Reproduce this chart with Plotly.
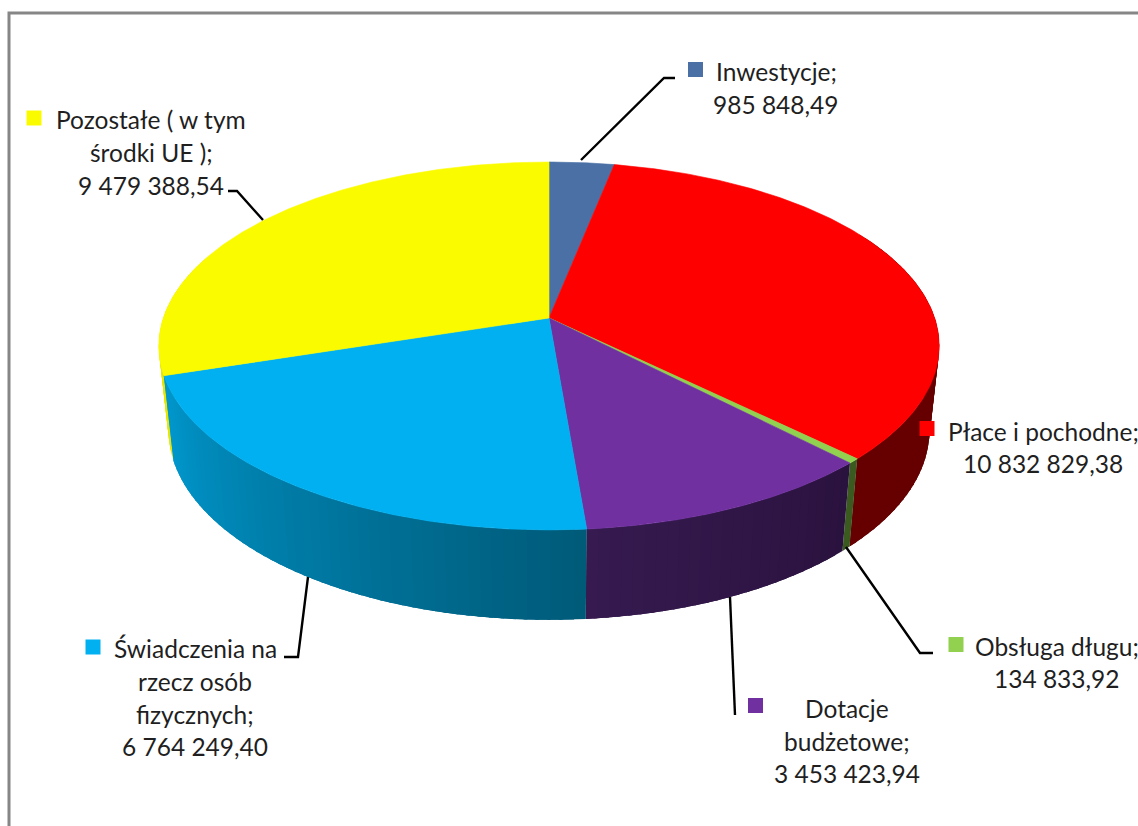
import numpy as np
import plotly.graph_objects as go

categories = ["Inwestycje", "Płace i pochodne", "Obsługa długu", "Dotacje budżetowe",
              "Świadczenia na rzecz osób fizycznych", "Pozostałe ( w tym środki UE )"]
values = [985848.49, 10832829.38, 134833.92, 3453423.94, 6764249.40, 9479388.54]
label_lines = [
    ["Inwestycje;", "985 848,49"],
    ["Płace i pochodne;", "10 832 829,38"],
    ["Obsługa długu;", "134 833,92"],
    ["Dotacje", "budżetowe;", "3 453 423,94"],
    ["Świadczenia na", "rzecz osób", "fizycznych;", "6 764 249,40"],
    ["Pozostałe ( w tym", "środki UE );", "9 479 388,54"],
]
top_colors = ["#4A70A5", "#FF0000", "#92D050", "#7030A0", "#00B0F0", "#FBFB00"]
wall_left = ["#2C4463", "#660000", "#3A5A20", "#361A50", "#0098CE", "#E6E600"]
wall_right = ["#2C4463", "#660000", "#3A5A20", "#2A123E", "#005A78", "#E6E600"]

# ---- layout of texts, keys and leaders (pixels) ----
label_x = [776, 1043, 1057, 847, 195, 151]
label_y = [[71, 104], [431, 463], [646, 678], [708, 741, 773], [648, 681, 714, 746], [119, 152, 185]]
key_x = [695.5, 927, 956, 755.5, 93, 34]
key_y = [69.5, 428.5, 644.5, 705.5, 647, 118]
leaders = [
    ([581, 664, 675], [160, 78, 78]),
    ([846, 920, 933], [547, 653, 653]),
    ([730, 735], [597, 715]),
    ([308, 298, 284], [577, 657, 657]),
    ([263, 237, 228], [220, 191, 191]),
]

# ---- pie projection (perspective disc) ----
CX, CY, A, B, K = 549, 318, 179.7, 385.7, 0.152
SX, SY, DY = 0.975, 1.03, 83.6


def top_pt(deg):
    t = np.radians(deg)
    w = 1 + K * np.cos(t)
    return CX + B * np.sin(t) / w, CY - A * np.cos(t) / w


def bot_pt(deg):
    x, y = top_pt(deg)
    return CX + SX * (x - CX), CY + DY + SY * (y - CY)


def hex2rgb(h):
    return np.array([int(h[i:i + 2], 16) for i in (1, 3, 5)], float)


vals = np.array(values)
edges = np.concatenate([[0], np.cumsum(vals) / vals.sum() * 360])

fig = go.Figure()


def poly(xs, ys, color, width=0.6):
    fig.add_trace(go.Scatter(x=xs, y=ys, mode="lines", fill="toself", fillcolor=color,
                             line=dict(color=color, width=width), hoverinfo="skip"))


# side walls: each strip overlaps the next so that no seams show
for i in [5, 1, 2, 3, 4]:
    a0, a1 = edges[i], edges[i + 1]
    a0v, a1v = max(a0, 60), min(a1, 290)
    n = max(1, int((a1v - a0v) / 1.5))
    steps = np.linspace(a0v, a1v, n + 1)
    c0, c1 = hex2rgb(wall_left[i]), hex2rgb(wall_right[i])
    for j in range(n):
        f = (j + 0.5) / n
        if i in (3, 4):
            f = 1 - f  # clockwise angle runs right to left across the front
        c = (c0 + (c1 - c0) * f).round().astype(int)
        col = f"rgb({c[0]},{c[1]},{c[2]})"
        end = min(steps[j + 1] + 2.0, a1v)
        th = np.linspace(steps[j], end, 6)
        tx, ty = top_pt(th)
        bx, by = bot_pt(th)
        poly(np.concatenate([tx, bx[::-1], tx[:1]]), np.concatenate([ty, by[::-1], ty[:1]]), col, width=0)

# top faces
for i in range(len(values)):
    th = np.linspace(edges[i], edges[i + 1], max(3, int((edges[i + 1] - edges[i]) * 2)))
    px, py = top_pt(th)
    poly(np.concatenate([[CX], px, [CX]]), np.concatenate([[CY], py, [CY]]), top_colors[i])

# chart frame
fig.add_trace(go.Scatter(x=[9, 9, 1138], y=[826, 13, 13], mode="lines",
                         line=dict(color="#868686", width=3), hoverinfo="skip"))

# leader lines
for lx, ly in leaders:
    fig.add_trace(go.Scatter(x=lx, y=ly, mode="lines", line=dict(color="#000000", width=2.4),
                             hoverinfo="skip"))

# legend keys
fig.add_trace(go.Scatter(x=key_x, y=key_y, mode="markers",
                         marker=dict(symbol="square", size=15, color=top_colors, line=dict(width=0)),
                         text=categories, hoverinfo="text"))

annotations = []
for lines, x, ys in zip(label_lines, label_x, label_y):
    for line, y in zip(lines, ys):
        annotations.append(dict(x=x, y=y, text=line, showarrow=False, xanchor="center", yanchor="middle",
                                font=dict(family="Lato", size=24.5, color="#1F1F1F")))

fig.update_layout(
    width=1138, height=826, margin=dict(l=0, r=0, t=0, b=0),
    paper_bgcolor="white", plot_bgcolor="white", showlegend=False,
    xaxis=dict(range=[0, 1138], visible=False, fixedrange=True),
    yaxis=dict(range=[826, 0], visible=False, fixedrange=True),
    annotations=annotations,
)
fig.write_html("out.html", post_script="document.body.style.margin='0';", config=dict(displayModeBar=False))
